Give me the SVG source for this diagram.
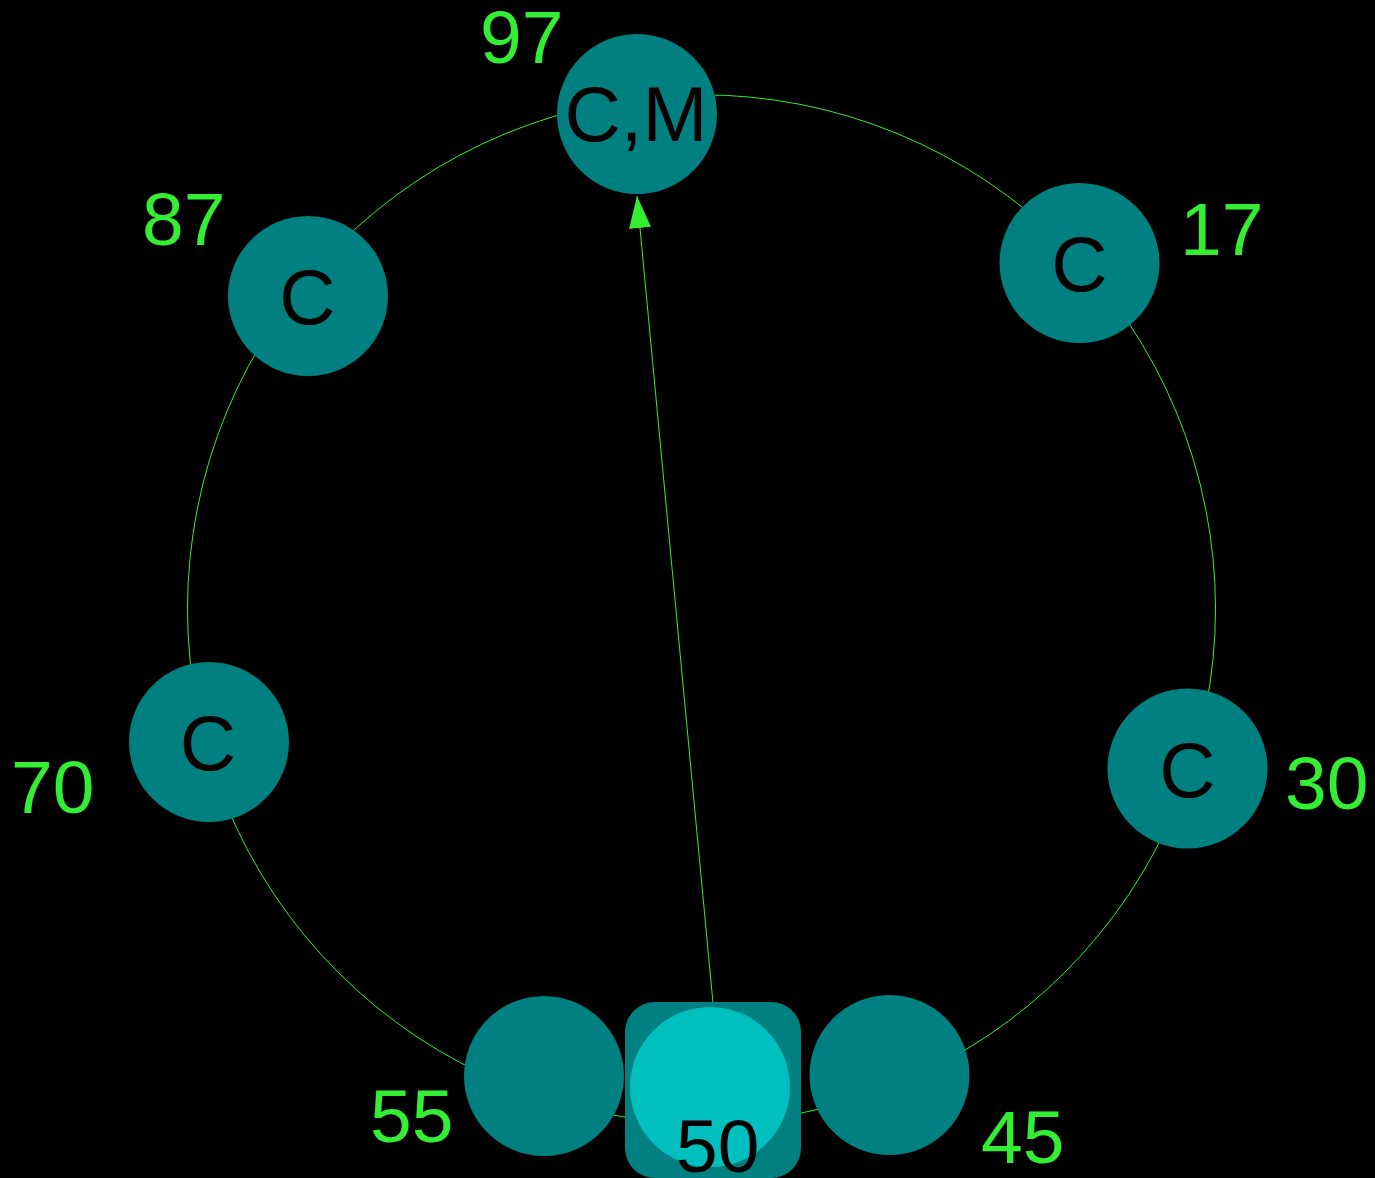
<svg xmlns="http://www.w3.org/2000/svg" width="1375" height="1178" viewBox="0 0 1375 1178">
  <style>
    .ring { fill: none; stroke: #33ee33; stroke-width: 1; }
    .edge { stroke: #33ee33; stroke-width: 1; fill: none; }
    .node { fill: #008080; }
    .hl { fill: #00bfbf; }
    .nt { font-family: "Liberation Sans", Arial, sans-serif; font-size: 78px; fill: #000000; text-anchor: middle; }
    .lbl { font-family: "Liberation Sans", Arial, sans-serif; font-size: 75px; fill: #33ee33; }
    .lblk { font-family: "Liberation Sans", Arial, sans-serif; font-size: 75px; fill: #000000; }
  </style>
  <defs>
    <marker id="arrow" markerUnits="userSpaceOnUse" markerWidth="32" markerHeight="22" refX="32" refY="11" orient="auto" viewBox="0 0 32 22">
      <path d="M0,0 L32,11 L0,22 Z" fill="#33ee33"/>
    </marker>
  </defs>
  <rect x="0" y="0" width="1375" height="1178" fill="#000000"/>

  <!-- ring of the identifier space -->
  <circle class="ring" cx="701.5" cy="608.8" r="514"/>

  <!-- lookup connector -->
  <g id="connectors">
    <line class="edge" x1="713" y1="1003" x2="637" y2="196" marker-end="url(#arrow)"/>
  </g>

  <g id="node-97">
    <circle class="node" cx="637" cy="114" r="80"/>
    <text class="nt" x="636" y="141">C,M</text>
    <text class="lbl" x="480" y="63">97</text>
  </g>
  <g id="node-17">
    <circle class="node" cx="1079.5" cy="263" r="80"/>
    <text class="nt" x="1079.5" y="291">C</text>
    <text class="lbl" x="1180" y="255">17</text>
  </g>
  <g id="node-87">
    <circle class="node" cx="308" cy="296" r="80"/>
    <text class="nt" x="307.5" y="324">C</text>
    <text class="lbl" x="142" y="245">87</text>
  </g>
  <g id="node-70">
    <circle class="node" cx="209" cy="742" r="80"/>
    <text class="nt" x="208" y="770">C</text>
    <text class="lbl" x="11" y="813">70</text>
  </g>
  <g id="node-30">
    <circle class="node" cx="1187.5" cy="768.5" r="80"/>
    <text class="nt" x="1187.5" y="797">C</text>
    <text class="lbl" x="1285" y="809">30</text>
  </g>
  <g id="node-55">
    <circle class="node" cx="544" cy="1076" r="80"/>
    <text class="lbl" x="370" y="1142">55</text>
  </g>
  <g id="node-45">
    <circle class="node" cx="889.5" cy="1075" r="80"/>
    <text class="lbl" x="981" y="1163">45</text>
  </g>
  <g id="node-50">
    <rect class="node" x="625" y="1002" width="176" height="176" rx="30" ry="30"/>
    <circle class="hl" cx="710" cy="1087" r="80"/>
    <text class="lblk" x="676" y="1172">50</text>
  </g>
</svg>
